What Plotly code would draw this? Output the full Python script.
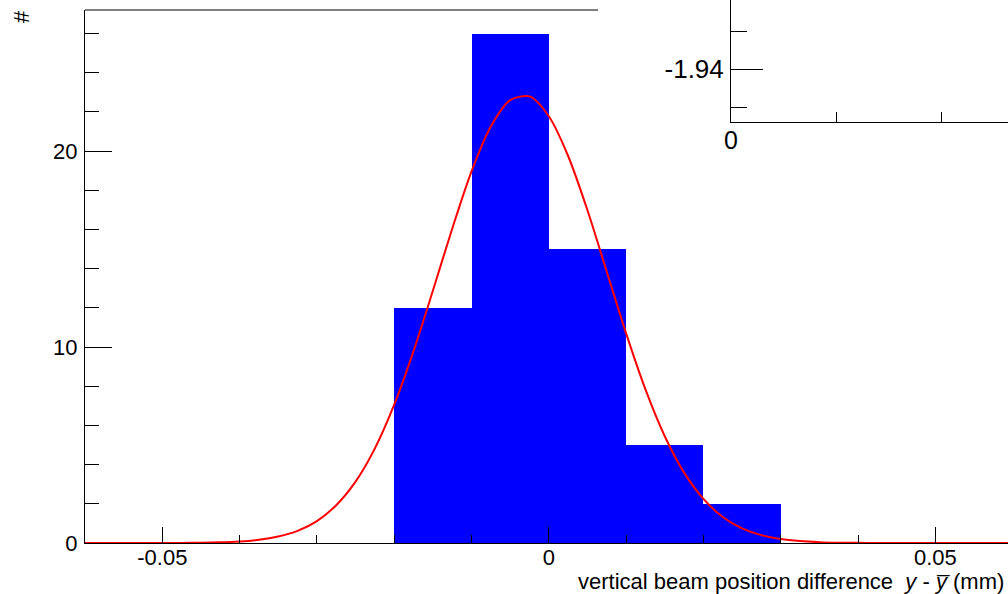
import plotly.graph_objects as go

# Histogram of y - ybar (bin centres, counts), bin width 0.01 mm
bin_centers = [-0.015, -0.005, 0.005, 0.015, 0.025]
bin_counts = [12, 26, 15, 5, 2]
bin_width = 0.01

# Gaussian fit curve, sampled every 0.0025 mm
fit_x = [-0.06, -0.0575, -0.055, -0.0525, -0.05, -0.0475, -0.045, -0.0425,
         -0.04, -0.0375, -0.035, -0.0325, -0.03, -0.0275, -0.025, -0.0225,
         -0.02, -0.0175, -0.015, -0.0125, -0.01, -0.0075, -0.005, -0.0025,
         0.0, 0.0025, 0.005, 0.0075, 0.01, 0.0125, 0.015, 0.0175,
         0.02, 0.0225, 0.025, 0.0275, 0.03, 0.0325, 0.035, 0.0375,
         0.04, 0.0425, 0.045, 0.0475, 0.05, 0.0525, 0.055, 0.0575, 0.06]
fit_y = [0.0, 0.0, 0.0, 0.0, 0.002, 0.006, 0.015, 0.034,
         0.077, 0.16, 0.33, 0.62, 1.12, 1.93, 3.13, 4.83,
         7.06, 9.79, 12.87, 16.04, 18.97, 21.26, 22.60, 22.79,
         21.78, 19.75, 16.98, 13.84, 10.70, 7.84, 5.45, 3.59,
         2.25, 1.33, 0.75, 0.40, 0.20, 0.097, 0.044, 0.019,
         0.008, 0.003, 0.001, 0.0, 0.0, 0.0, 0.0, 0.0, 0.0]

x_tickvals = [-0.05, 0, 0.05]
x_ticktext = ["-0.05", "0", "0.05"]
y_tickvals = [0, 10, 20]
y_ticktext = ["0", "10", "20"]

inset_y_tickvals = [-1.94]
inset_y_ticktext = ["-1.94"]
inset_x_tickvals = [0]
inset_x_ticktext = ["0"]

W, H = 1008, 594
FONT = "Liberation Sans, Arial, Helvetica, sans-serif"

fig = go.Figure()

fig.add_trace(go.Bar(
    x=bin_centers, y=bin_counts, width=bin_width,
    marker=dict(color="#0000ff", line=dict(width=0)),
    xaxis="x", yaxis="y", showlegend=False, hoverinfo="skip",
))
fig.add_trace(go.Scatter(
    x=fit_x, y=fit_y, mode="lines",
    line=dict(color="#ff0000", width=2, shape="spline", smoothing=0.8),
    xaxis="x", yaxis="y", showlegend=False, hoverinfo="skip",
))

# empty trace so the inset axes are rendered
fig.add_trace(go.Scatter(x=[None], y=[None], xaxis="x2", yaxis="y2",
                         showlegend=False, hoverinfo="skip"))

plot_bottom = 543  # pixel row of the main x axis
axis_common = dict(showline=True, linecolor="black", linewidth=1,
                   showgrid=False, zeroline=False, automargin=False,
                   tickcolor="black", tickwidth=1, ticks="inside")

fig.update_layout(
    template="none",
    width=W, height=H,
    margin=dict(l=0, r=0, t=0, b=H - plot_bottom, pad=0),
    paper_bgcolor="white", plot_bgcolor="white",
    font=dict(family=FONT, size=22, color="black"),
    bargap=0,
    xaxis=dict(
        domain=[85 / W, 1], range=[-0.06, 0.0594], anchor="y",
        ticklen=16, tickvals=x_tickvals, ticktext=x_ticktext,
        tickfont=dict(size=22), ticklabelstandoff=-5,
        minor=dict(ticks="inside", dtick=0.01, tick0=0, ticklen=8,
                   tickcolor="black", tickwidth=1, showgrid=False),
        **axis_common,
    ),
    yaxis=dict(
        domain=[0, (plot_bottom - 10) / plot_bottom], range=[0, 27.2], anchor="x",
        ticklen=27, tickvals=y_tickvals, ticktext=y_ticktext,
        tickfont=dict(size=22), ticklabelstandoff=2,
        minor=dict(ticks="inside", dtick=2, tick0=0, ticklen=14,
                   tickcolor="black", tickwidth=1, showgrid=False),
        **axis_common,
    ),
    xaxis2=dict(
        domain=[731 / W, 1], range=[0, (W - 731) / 105], anchor="y2",
        ticklen=10, tickvals=inset_x_tickvals, ticktext=inset_x_ticktext,
        tickfont=dict(size=25), ticklabelstandoff=-4,
        minor=dict(ticks="inside", dtick=1, tick0=0, ticklen=10,
                   tickcolor="black", tickwidth=1, showgrid=False),
        **axis_common,
    ),
    yaxis2=dict(
        domain=[(plot_bottom - 122) / plot_bottom, 1],
        range=[-1.94 - 53 / 3800, -1.94 + 69 / 3800], anchor="x2",
        ticklen=32, tickvals=inset_y_tickvals, ticktext=inset_y_ticktext,
        tickfont=dict(size=26), ticklabelstandoff=1,
        minor=dict(ticks="inside", dtick=0.01, tick0=-1.94, ticklen=16,
                   tickcolor="black", tickwidth=1, showgrid=False),
        **axis_common,
    ),
    shapes=[
        # top frame of the main pad, up to the inset pad
        dict(type="line", xref="paper", yref="paper",
             x0=85 / W, x1=598 / W,
             y0=(plot_bottom - 10) / plot_bottom, y1=(plot_bottom - 10) / plot_bottom,
             line=dict(color="black", width=1)),
    ],
    annotations=[
        dict(text="vertical beam position difference\u00a0\u00a0<i>y</i> - <i>y\u0305</i> (mm)",
             xref="paper", yref="paper", x=1006 / W, y=(plot_bottom - 581) / plot_bottom,
             xanchor="right", yanchor="middle", showarrow=False,
             font=dict(size=22, family=FONT)),
        dict(text="#", xref="paper", yref="paper",
             x=21 / W, y=(plot_bottom - 17) / plot_bottom,
             xanchor="center", yanchor="middle", textangle=-90, showarrow=False,
             font=dict(size=22, family=FONT)),
    ],
)

fig.write_html("out.html")
